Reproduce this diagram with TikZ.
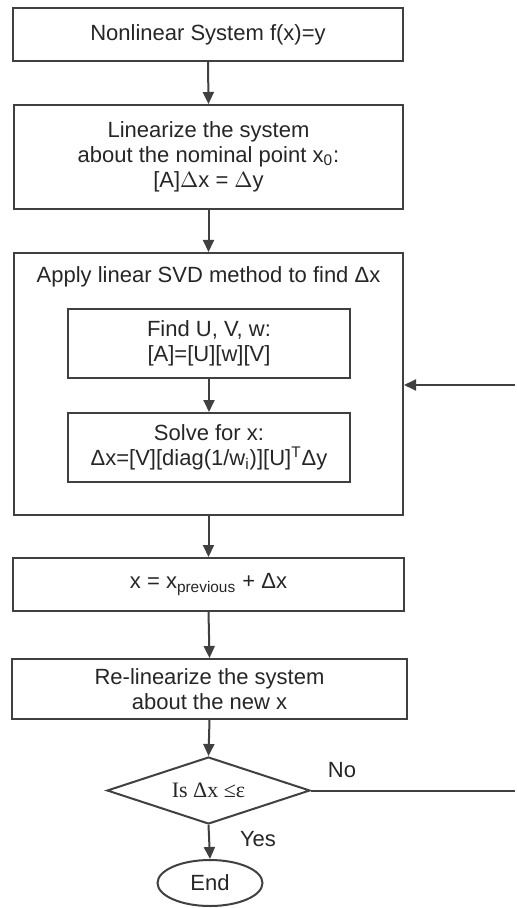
\documentclass[tikz,border=0pt]{standalone}
\usepackage{fontspec}
\setmainfont{Liberation Sans}
\newfontfamily\serifrm{Liberation Serif}
\usetikzlibrary{shapes.geometric,arrows.meta}
\begin{document}
\begin{tikzpicture}[x=0.5pt,y=-0.5pt,
  every node/.style={font=\fontsize{11}{12.5}\selectfont, text=black!85},
  bloc/.style={draw=black!75, line width=1pt, rectangle, inner sep=0pt, align=center},
  fleche/.style={draw=black!75, line width=1pt, -{Triangle[length=6pt,width=5.5pt]}},
  trait/.style={draw=black!75, line width=1pt}]
\useasboundingbox (0,0) rectangle (516,908);

\node [bloc, minimum width=195pt, minimum height=26.5pt] (sys) at (208,34.5) {Nonlinear System f(x)=y};
\node [bloc, minimum width=194.5pt, minimum height=52pt] (lin) at (208.5,157)
  {Linearize the system\\about the nominal point x\textsubscript{0}:\\{}[A]$\Delta$x = $\Delta$y};
\node [bloc, minimum width=194.5pt, minimum height=131pt] (svd) at (208.5,384) {};
\node (svdtitre) at (208.5,277) {Apply linear SVD method to find Δx};
\node [bloc, minimum width=141pt, minimum height=34.5pt] (find) at (209,343.5)
  {Find U, V, w:\\{}[A]=[U][w][V]};
\node [bloc, minimum width=141pt, minimum height=34.5pt] (solve) at (209,447.5)
  {Solve for x:\\ Δx=[V][diag(1/w\textsubscript{i})][U]\textsuperscript{T}Δy};
\node [bloc, minimum width=195.5pt, minimum height=26.5pt] (upd) at (208.5,584.5)
  {x = x\textsubscript{previous} + Δx};
\node [bloc, minimum width=197.5pt, minimum height=30pt] (relin) at (209.5,689)
  {Re-linearize the system\\about the new x};
\node [diamond, draw=black!75, line width=1pt, aspect=3, inner sep=0pt,
  minimum width=101.5pt, minimum height=33.5pt] (dec) at (208.5,790.5) {\serifrm Is Δx ≤ε};
\node [ellipse, draw=black!75, line width=1pt, inner sep=0pt,
  minimum width=52.5pt, minimum height=23pt] (end) at (210,883) {End};
\node (non) at (342,770) {No};
\node (oui) at (258,839) {Yes};

\coordinate (retour) at (515,385) ; % boucle, entree
\coordinate (sortie) at (515,790.5) ; % boucle, sortie

\draw [fleche] (sys.south) -- (lin.north) ;
\draw [fleche] (lin.south) -- (svd.north) ;
\draw [fleche] (find.south) -- (solve.north) ;
\draw [fleche] (svd.south) -- (upd.north) ;
\draw [fleche] (upd.south) -- (relin.north) ;
\draw [fleche] (relin.south) -- (dec.north) ;
\draw [fleche] (dec.south) -- (end.north) ;
\draw [trait] (dec.east) -- (sortie) ;
\draw [fleche] (retour) -- (retour -| svd.east) ;

\end{tikzpicture}
\end{document}
